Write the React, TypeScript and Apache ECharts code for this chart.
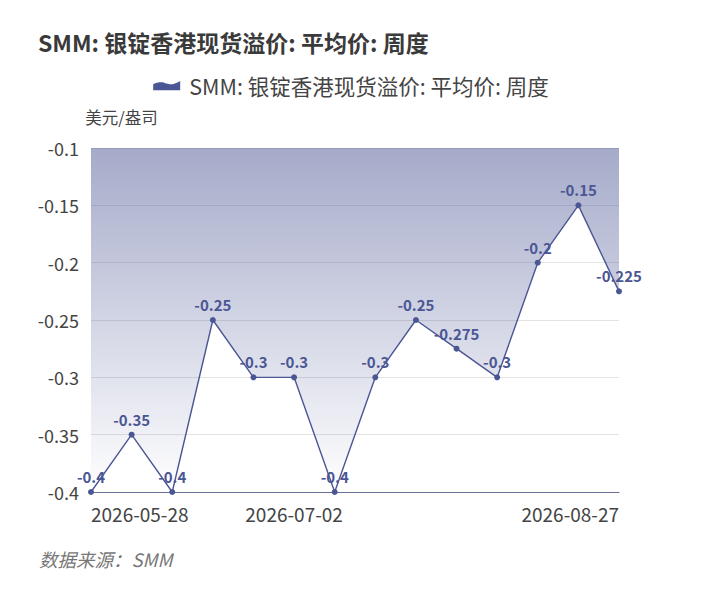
import React, { useEffect, useRef } from "react";
import * as echarts from "echarts";

const titleText = "SMM: 银锭香港现货溢价: 平均价: 周度";
const seriesName = "SMM: 银锭香港现货溢价: 平均价: 周度";
const unitName = "美元/盎司";
const sourceText = "数据来源：SMM";
const categories = [
  "2026-05-28", "2026-06-04", "2026-06-11", "2026-06-18", "2026-06-25",
  "2026-07-02", "2026-07-09", "2026-07-16", "2026-07-23", "2026-07-30",
  "2026-08-06", "2026-08-13", "2026-08-20", "2026-08-27",
];
const values = [-0.4, -0.35, -0.4, -0.25, -0.3, -0.3, -0.4, -0.3, -0.25, -0.275, -0.3, -0.2, -0.15, -0.225];
const shownLabelIdx = [0, 5, 13];

const FONT = "'Noto Sans CJK SC', 'Noto Sans', sans-serif";
const LINE = "#4b5694";

export default function App() {
  const ref = useRef<HTMLDivElement>(null);
  useEffect(() => {
    if (!ref.current) return;
    const chart = echarts.init(ref.current, null, { renderer: "svg" });
    chart.setOption({
      animation: false,
      textStyle: { fontFamily: FONT },
      title: {
        text: titleText,
        left: 25,
        top: 17,
        textStyle: { fontSize: 23, fontWeight: "bold", color: "#3a3a3a", fontFamily: FONT },
      },
      legend: {
        top: 62,
        left: "center",
        itemWidth: 27,
        itemHeight: 9,
        itemGap: 10,
        symbolKeepAspect: false,
        itemStyle: { color: LINE, borderWidth: 0, opacity: 1 },
        lineStyle: { width: 0 },
        textStyle: { fontSize: 21.5, color: "#444", fontFamily: FONT, padding: [0, 0, 0, 4] },
        data: [
          {
            name: seriesName,
            icon: "path://M0,3 C4,1 8,0.5 11,1.5 C15,3 18,3.5 21,2.5 C24,1.5 26,0 27,0 L27,9 L0,9 Z",
            itemStyle: { color: LINE, borderWidth: 0, opacity: 1 },
          },
        ],
      },
      grid: { left: 83, right: 75, top: 140, bottom: 97 },
      xAxis: {
        type: "category",
        data: categories,
        boundaryGap: false,
        axisTick: { show: false },
        axisLine: { lineStyle: { color: "#6a6f98", width: 1.2 } },
        axisLabel: {
          interval: (idx: number) => shownLabelIdx.includes(idx),
          alignMinLabel: "left",
          alignMaxLabel: "right",
          fontSize: 19,
          color: "#444",
          margin: 12,
          fontFamily: FONT,
        },
      },
      yAxis: {
        type: "value",
        min: -0.4,
        max: -0.1,
        interval: 0.05,
        name: unitName,
        nameGap: 23,
        nameTextStyle: { fontSize: 16.5, color: "#444", align: "center", padding: [0, 0, 0, 61], fontFamily: FONT },
        axisLine: { show: false },
        axisTick: { show: false },
        splitLine: { lineStyle: { color: "#e3e3e3" } },
        axisLabel: { fontSize: 18, color: "#444", margin: 12, fontFamily: FONT },
      },
      series: [
        {
          name: seriesName,
          type: "line",
          data: values,
          symbol: "circle",
          symbolSize: 6,
          lineStyle: { color: LINE, width: 1.4 },
          itemStyle: { color: LINE },
          label: {
            show: true,
            position: "top",
            fontSize: 15,
            fontWeight: "bold",
            color: LINE,
            fontFamily: FONT,
          },
          areaStyle: {
            origin: "end",
            opacity: 1,
            color: new echarts.graphic.LinearGradient(0, 0, 0, 1, [
              { offset: 0, color: "rgba(75,86,148,0.5)" },
              { offset: 1, color: "rgba(75,86,148,0)" },
            ]),
          },
        },
      ],
      graphic: [
        {
          type: "text",
          left: 31,
          top: 542,
          style: { text: sourceText, fontSize: 18.5, fontStyle: "italic", fill: "#777", fontFamily: FONT },
        },
      ],
    });
    return () => chart.dispose();
  }, []);
  return <div ref={ref} style={{ width: 686, height: 581 }} />;
}
